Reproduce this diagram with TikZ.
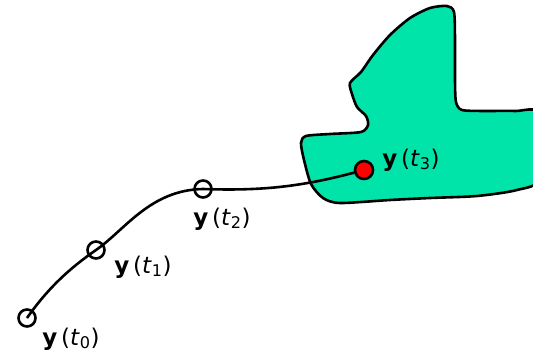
\documentclass[tikz,border=0pt]{standalone}
\usepackage{fontspec}
\setmainfont{DejaVu Sans}
\definecolor{blobgreen}{RGB}{0,228,170}
\newcommand{\yt}[1]{\textbf{y}\,(\textit{t}\textsubscript{#1})}
\begin{document}
\begin{tikzpicture}[x=1pt,y=-1pt,
  pt/.style={circle,draw,line width=2.6pt,minimum size=17pt,inner sep=0pt},
  lbl/.style={font=\fontsize{23}{26}\selectfont,inner sep=0pt},
  thick line/.style={line width=2.6pt}]
\useasboundingbox (0,0) rectangle (533,353);
\draw[thick line,fill=blobgreen] plot[smooth cycle,tension=0.45] coordinates {
 (430,8) (447,6) (454,12) (455,40) (455,80) (456,102) (462,110) (485,111) (515,111) (540,114)
 (540,178) (517,190) (477,196) (430,198) (390,200) (340,203) (323,198) (311,184) (304,160)
 (301,143) (306,136) (330,134) (361,132) (368,125) (366,116) (357,107) (352,94) (350,83)
 (361,72) (373,55) (390,35) (410,18)};
\node[pt] (p0) at (27,318) {};
\node[pt] (p1) at (96,250) {};
\node[pt] (p2) at (203,189) {};
\node[pt,fill=red,minimum size=18pt] (p3) at (364,170) {};
\draw[thick line] (p0.center) .. controls (48,288) and (70,268) .. (p1.center)
  .. controls (125,230) and (150,190) .. (p2.center)
  .. controls (260,191) and (300,187) .. (p3);
\node[lbl] (l0) at (71,339) {\yt{0}};
\node[lbl] (l1) at (143,267) {\yt{1}};
\node[lbl] (l2) at (222,219) {\yt{2}};
\node[lbl] (l3) at (411,160) {\yt{3}};
\end{tikzpicture}
\end{document}
